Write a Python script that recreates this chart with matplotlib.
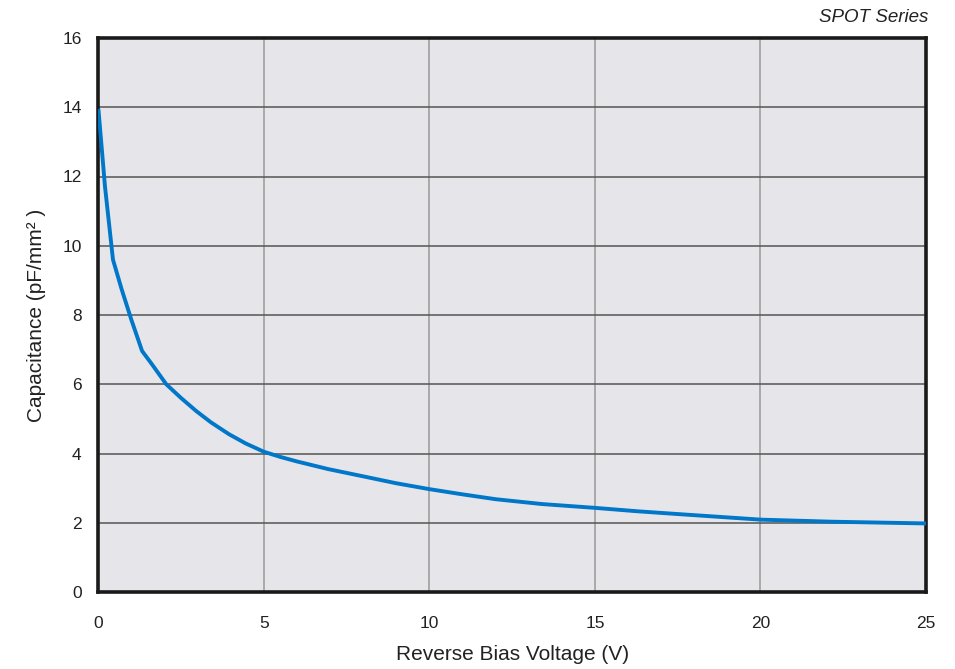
import matplotlib
matplotlib.use("Agg")
import matplotlib.pyplot as plt

plt.rcParams['font.family'] = ['Liberation Sans', 'DejaVu Sans']

voltage = [0, 0.2, 0.44, 0.7, 1.0, 1.32, 1.6, 2.05, 2.5, 2.95, 3.4, 3.94, 4.45, 5, 5.5, 6.0, 6.94, 8.0, 9.0, 10, 11, 12, 13.4, 15, 16.3, 17.67, 20, 22.17, 25]
capacitance = [13.95, 11.7, 9.6, 8.75, 7.85, 6.96, 6.6, 6.0, 5.6, 5.23, 4.9, 4.56, 4.29, 4.05, 3.9, 3.77, 3.55, 3.34, 3.14, 2.97, 2.82, 2.68, 2.54, 2.43, 2.33, 2.24, 2.09, 2.03, 1.98]
x_ticks = [0, 5, 10, 15, 20, 25]
y_ticks = [0, 2, 4, 6, 8, 10, 12, 14, 16]

fig = plt.figure(figsize=(9.55, 6.69), dpi=100)
ax = fig.add_axes([98.4/955, 1 - 592/669, (926 - 98.4)/955, (592 - 38)/669])
ax.set_facecolor('#e6e6ea')
ax.set_xlim(0, 25)
ax.set_ylim(0, 16)
ax.set_xticks(x_ticks)
ax.set_yticks(y_ticks)
for v in x_ticks[1:-1]:
    ax.axvline(v, color='#999999', lw=1.1, zorder=1)
for v in y_ticks[1:-1]:
    ax.axhline(v, color='#555555', lw=1.1, zorder=1)

ax.plot(voltage, capacitance, color='#0077c8', lw=2.8, zorder=3,
        solid_joinstyle='round', solid_capstyle='butt')

for s in ax.spines.values():
    s.set_linewidth(2.6)
    s.set_color('#1a1a1a')
ax.tick_params(length=0, labelsize=12.5, colors='#222222')
ax.tick_params(axis='x', pad=17)
ax.tick_params(axis='y', pad=12)
ax.set_xlabel('Reverse Bias Voltage (V)', fontsize=15, color='#222222', labelpad=10)
ax.set_ylabel('Capacitance (pF/mm² )', fontsize=15, color='#222222', labelpad=12)
fig.text(928/955, 1 - 18/669, 'SPOT Series', ha='right', va='center', fontsize=13.5, style='italic', color='#222222')

fig.savefig('out.png', dpi=100)
